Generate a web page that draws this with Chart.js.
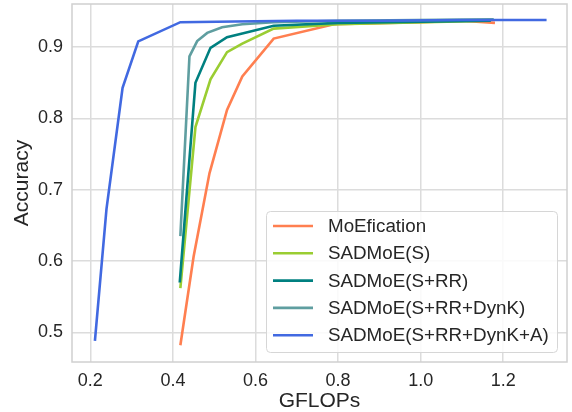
<!DOCTYPE html>
<html>
<head>
<meta charset="utf-8">
<script src="https://cdn.jsdelivr.net/npm/chart.js@4/dist/chart.umd.min.js"></script>
<style>
  html, body { margin: 0; padding: 0; background: #ffffff; }
  #wrap { width: 572px; height: 412px; }
</style>
</head>
<body>
<div id="wrap"><canvas id="c" width="572" height="412"></canvas></div>
<script>
// ---- data ----
const seriesLabels = ['MoEfication', 'SADMoE(S)', 'SADMoE(S+RR)', 'SADMoE(S+RR+DynK)', 'SADMoE(S+RR+DynK+A)'];
const seriesColors = ['#FF7F50', '#9ACD32', '#008080', '#5F9EA0', '#4169E1'];

const moeX  = [0.418, 0.450, 0.4885, 0.531, 0.568, 0.644, 0.790, 1.000, 1.100, 1.180];
const moeY  = [0.482, 0.606, 0.723, 0.812, 0.859, 0.912, 0.932, 0.935, 0.937, 0.934];

const sX    = [0.418, 0.4545, 0.491, 0.531, 0.568, 0.644, 0.800, 1.170];
const sY    = [0.562, 0.788, 0.855, 0.893, 0.905, 0.926, 0.932, 0.937];

const srrX  = [0.4165, 0.4545, 0.491, 0.531, 0.568, 0.644, 0.800, 1.170];
const srrY  = [0.570, 0.850, 0.899, 0.914, 0.919, 0.930, 0.934, 0.937];

const dynX  = [0.418, 0.440, 0.4587, 0.483, 0.519, 0.568, 0.644, 0.800, 1.177];
const dynY  = [0.635, 0.887, 0.9085, 0.920, 0.928, 0.932, 0.935, 0.937, 0.939];

const allX  = [0.211, 0.239, 0.278, 0.316, 0.418, 0.550, 0.700, 0.900, 1.100, 1.305];
const allY  = [0.488, 0.673, 0.843, 0.908, 0.935, 0.936, 0.937, 0.937, 0.938, 0.938];

const xTicks = [0.2, 0.4, 0.6, 0.8, 1.0, 1.2];
const yTicks = [0.5, 0.6, 0.7, 0.8, 0.9];
const xTitle = 'GFLOPs';
const yTitle = 'Accuracy';

// ---- build chart ----
const xs = [moeX, sX, srrX, dynX, allX];
const ys = [moeY, sY, srrY, dynY, allY];
const datasets = seriesLabels.map((lab, i) => ({
  label: lab,
  data: xs[i].map((x, j) => ({ x: x, y: ys[i][j] })),
  borderColor: seriesColors[i],
  backgroundColor: seriesColors[i],
  borderWidth: 2.6,
  pointRadius: 0,
  fill: false,
  tension: 0,
  order: 5 - i
}));

const FONT = '"Liberation Sans", Arial, "DejaVu Sans", sans-serif';
const TXT = '#262626';
const GRID = '#dcdcdc';

const legendPlugin = {
  id: 'insideLegend',
  afterDraw(chart) {
    const ctx = chart.ctx;
    const x0 = 266.5, y0 = 211.5, w = 291, h = 141, r = 4;
    ctx.save();
    ctx.beginPath();
    ctx.moveTo(x0 + r, y0);
    ctx.lineTo(x0 + w - r, y0);
    ctx.arcTo(x0 + w, y0, x0 + w, y0 + r, r);
    ctx.lineTo(x0 + w, y0 + h - r);
    ctx.arcTo(x0 + w, y0 + h, x0 + w - r, y0 + h, r);
    ctx.lineTo(x0 + r, y0 + h);
    ctx.arcTo(x0, y0 + h, x0, y0 + h - r, r);
    ctx.lineTo(x0, y0 + r);
    ctx.arcTo(x0, y0, x0 + r, y0, r);
    ctx.closePath();
    ctx.fillStyle = 'rgba(255,255,255,0.85)';
    ctx.fill();
    ctx.strokeStyle = '#d6d6d6';
    ctx.lineWidth = 1;
    ctx.stroke();
    ctx.font = '18.8px ' + FONT;
    ctx.textBaseline = 'middle';
    ctx.textAlign = 'left';
    chart.data.datasets.forEach((ds, i) => {
      const yy = 226 + i * 27.3;
      ctx.beginPath();
      ctx.moveTo(273, yy);
      ctx.lineTo(313, yy);
      ctx.strokeStyle = ds.borderColor;
      ctx.lineWidth = 2.6;
      ctx.stroke();
      ctx.fillStyle = TXT;
      ctx.fillText(ds.label, 328, yy + 1);
    });
    ctx.restore();
  }
};

const borderPlugin = {
  id: 'frame',
  beforeDatasetsDraw(chart) {
    const a = chart.chartArea, ctx = chart.ctx;
    ctx.save();
    ctx.strokeStyle = '#d0d0d0';
    ctx.lineWidth = 1.5;
    ctx.strokeRect(a.left, a.top, a.right - a.left, a.bottom - a.top);
    ctx.restore();
  }
};

new Chart(document.getElementById('c'), {
  type: 'line',
  data: { datasets: datasets },
  plugins: [borderPlugin, legendPlugin],
  options: {
    responsive: false,
    animation: false,
    layout: { padding: { top: 4, right: 5, left: 0, bottom: 0 } },
    plugins: { legend: { display: false }, tooltip: { enabled: false } },
    scales: {
      x: {
        type: 'linear',
        min: 0.1555, max: 1.3545,
        afterFit(s) { s.height = 50; s.paddingLeft = 0; s.paddingRight = 0; },
        afterBuildTicks(s) { s.ticks = xTicks.map(v => ({ value: v })); },
        grid: { color: GRID, lineWidth: 1.5, drawTicks: false },
        border: { display: false },
        ticks: {
          color: TXT, padding: 8,
          font: { family: FONT, size: 18 },
          callback: v => v.toFixed(1)
        },
        title: { display: true, text: xTitle, color: TXT, padding: { top: 0, bottom: 0 }, font: { family: FONT, size: 21, lineHeight: 1.0 } }
      },
      y: {
        type: 'linear',
        min: 0.4585, max: 0.9605,
        afterFit(s) { s.width = 72; s.paddingTop = 0; s.paddingBottom = 0; },
        afterBuildTicks(s) { s.ticks = yTicks.map(v => ({ value: v })); },
        grid: { color: GRID, lineWidth: 1.5, drawTicks: false },
        border: { display: false },
        ticks: {
          color: TXT, padding: 9,
          font: { family: FONT, size: 18 },
          callback: v => v.toFixed(1)
        },
        title: { display: true, text: yTitle, color: TXT, padding: { top: 10, bottom: 0 }, font: { family: FONT, size: 21 } }
      }
    }
  }
});
</script>
</body>
</html>
